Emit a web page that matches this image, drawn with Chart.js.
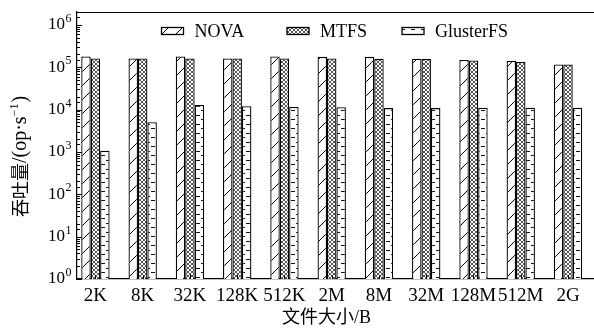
<!DOCTYPE html>
<html>
<head>
<meta charset="utf-8">
<script src="https://cdn.jsdelivr.net/npm/chart.js@4"></script>
<style>
  html, body { margin: 0; padding: 0; background: #fff; }
  #wrap { width: 594px; height: 333px; }
</style>
</head>
<body>
<div id="wrap"><canvas id="chart" width="594" height="333"></canvas></div>
<script>
const categories = ['2K', '8K', '32K', '128K', '512K', '2M', '8M', '32M', '128M', '512M', '2G'];
const novaValues = [178000, 160000, 178000, 160000, 178000, 175000, 175000, 158000, 148000, 140000, 115000];
const mtfsValues = [160000, 160000, 160000, 160000, 160000, 160000, 158000, 155000, 143000, 132000, 115000];
const glusterValues = [1070, 5000, 12800, 12000, 11500, 11300, 10800, 10800, 11000, 11000, 11000];
const seriesNames = ['NOVA', 'MTFS', 'GlusterFS'];
const yTickPowers = [0, 1, 2, 3, 4, 5, 6];
const yTitleParts = ['吞吐量', '/(op\u00b7s', '\u22121', ')'];

const SERIF = "'Liberation Serif', serif";
const CJK = "'Noto Sans CJK SC', sans-serif";

function makePattern(kind) {
  const c = document.createElement('canvas');
  const g = c.getContext('2d');
  if (kind === 'diag') {
    c.width = 14; c.height = 14;
    g.fillStyle = '#fff'; g.fillRect(0, 0, 14, 14);
    g.strokeStyle = '#000'; g.lineWidth = 1;
    g.beginPath();
    g.moveTo(0, 14); g.lineTo(14, 0);
    g.moveTo(-2, 2); g.lineTo(2, -2);
    g.moveTo(12, 16); g.lineTo(16, 12);
    g.stroke();
  } else if (kind === 'cross') {
    c.width = 4; c.height = 4;
    g.fillStyle = '#fff'; g.fillRect(0, 0, 4, 4);
    g.strokeStyle = '#555'; g.lineWidth = 1;
    g.beginPath();
    g.moveTo(0, 0); g.lineTo(4, 4);
    g.moveTo(0, 4); g.lineTo(4, 0);
    g.stroke();
  } else {
    c.width = 10; c.height = 9;
    g.fillStyle = '#fff'; g.fillRect(0, 0, 10, 9);
    g.strokeStyle = '#111'; g.lineWidth = 1;
    g.beginPath();
    g.moveTo(1, 2.5); g.lineTo(5, 2.5);
    g.moveTo(6, 7.5); g.lineTo(10, 7.5);
    g.stroke();
  }
  return c.getContext('2d').createPattern(c, 'repeat');
}

const patterns = [makePattern('diag'), makePattern('cross'), makePattern('dash')];
const allValues = [novaValues, mtfsValues, glusterValues];

// frame top line, inward ticks, exponents, y title and the legend inside the plot
const decorations = {
  id: 'decorations',
  afterDraw(chart) {
    const { ctx, chartArea: a, scales: { x, y } } = chart;
    ctx.save();
    ctx.strokeStyle = '#000';
    ctx.lineWidth = 1.2;
    ctx.beginPath();
    ctx.moveTo(a.left, a.top + 0.5);
    ctx.lineTo(a.right, a.top + 0.5);
    ctx.stroke();

    ctx.lineWidth = 1;
    ctx.beginPath();
    y.ticks.forEach(t => {
      const py = Math.round(y.getPixelForValue(t.value)) + 0.5;
      const exp = Math.log10(t.value);
      const major = Math.abs(exp - Math.round(exp)) < 1e-9;
      ctx.moveTo(a.left, py);
      ctx.lineTo(a.left + (major ? 5 : 3), py);
    });
    x.ticks.forEach(t => {
      const px = Math.round(x.getPixelForValue(t.value)) + 0.5;
      ctx.moveTo(px, a.bottom);
      ctx.lineTo(px, a.bottom - 4);
    });
    ctx.stroke();

    // exponents of the y tick labels
    ctx.fillStyle = '#000';
    ctx.font = '12px ' + SERIF;
    ctx.textAlign = 'left';
    ctx.textBaseline = 'middle';
    yTickPowers.forEach(e => {
      const py = y.getPixelForValue(Math.pow(10, e));
      ctx.fillText(String(e), a.left - 11.5, py - 6);
    });

    // y axis title
    ctx.save();
    ctx.translate(21, 157);
    ctx.rotate(-Math.PI / 2);
    const fonts = ['18px ' + CJK, '20px ' + SERIF, '12px ' + SERIF, '20px ' + SERIF];
    const widths = yTitleParts.map((s, i) => { ctx.font = fonts[i]; return ctx.measureText(s).width; });
    let tx = -widths.reduce((p, w) => p + w, 0) / 2;
    yTitleParts.forEach((s, i) => {
      ctx.font = fonts[i];
      ctx.fillText(s, tx, i === 2 ? -6 : (i === 0 ? -1 : 0));
      tx += widths[i] + (i === 2 ? 1 : 0);
    });
    ctx.restore();

    // legend
    const starts = [84.5, 210, 325];
    const ly = a.top + 19;
    ctx.font = '18px ' + SERIF;
    ctx.textBaseline = 'middle';
    chart.data.datasets.forEach((ds, i) => {
      const bx = a.left + starts[i];
      ctx.fillStyle = ds.backgroundColor;
      ctx.fillRect(bx, ly - 3.5, 22, 7);
      ctx.strokeStyle = '#000';
      ctx.lineWidth = 1.3;
      ctx.strokeRect(bx, ly - 3.5, 22, 7);
      ctx.fillStyle = '#000';
      ctx.fillText(ds.label, bx + 33, ly + 1);
    });
    ctx.restore();
  }
};

new Chart(document.getElementById('chart'), {
  type: 'bar',
  data: {
    datasets: seriesNames.map((name, i) => ({
      label: name,
      data: allValues[i].map((v, k) => ({ x: k, y: v })),
      backgroundColor: patterns[i],
      borderColor: '#000',
      borderWidth: 1.3,
      borderSkipped: 'bottom',
      categoryPercentage: 0.6,
      barPercentage: 1.0
    }))
  },
  options: {
    responsive: false,
    animation: false,
    devicePixelRatio: 1,
    layout: { padding: { left: 0, top: 12, right: 0, bottom: 0 } },
    plugins: { legend: { display: false }, tooltip: { enabled: false } },
    scales: {
      x: {
        type: 'linear',
        offset: false,
        min: -0.39,
        max: 10.55,
        grid: { display: false, drawTicks: false },
        border: { display: true, color: '#000', width: 1.2 },
        afterBuildTicks: s => { s.ticks = categories.map((_, k) => ({ value: k })); },
        afterFit: s => { s.height = 54; s.paddingLeft = 0; s.paddingRight = 0; },
        ticks: {
          autoSkip: false,
          maxRotation: 0,
          padding: 6,
          color: '#000',
          font: { family: SERIF, size: 19 },
          callback: v => categories[v] ?? ''
        },
        title: {
          display: true,
          text: '文件大小/B\u00a0\u00a0\u00a0\u00a0',
          color: '#000',
          font: { family: "'Liberation Serif', 'Noto Sans CJK SC', serif", size: 18 },
          padding: { top: 0, bottom: 4 }
        }
      },
      y: {
        type: 'logarithmic',
        min: 1,
        max: 2000000,
        grid: { display: false, drawTicks: false },
        border: { display: true, color: '#000', width: 1.2 },
        afterFit: s => { s.width = 77; s.paddingTop = 0; s.paddingBottom = 0; },
        ticks: {
          autoSkip: false,
          padding: 12,
          color: '#000',
          font: { family: SERIF, size: 17 },
          callback: v => {
            const e = Math.round(Math.log10(v));
            if (!yTickPowers.includes(e) || Math.abs(Math.log10(v) - e) > 1e-9) return '';
            return '10';
          }
        }
      }
    }
  },
  plugins: [decorations]
});
</script>
</body>
</html>
